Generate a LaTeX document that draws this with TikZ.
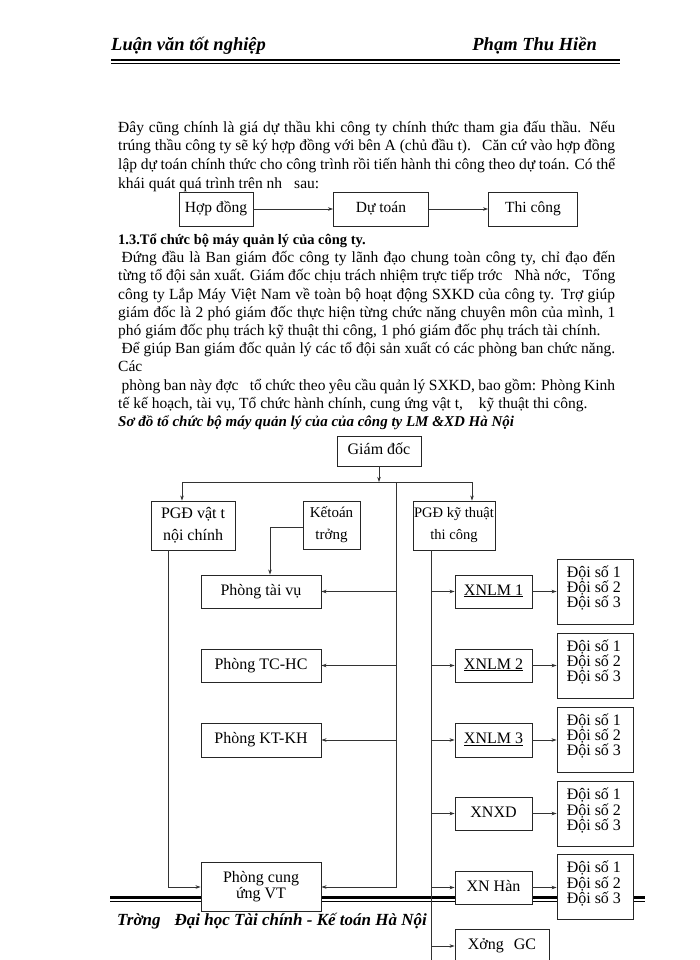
\documentclass[tikz,border=0pt]{standalone}
\usepackage{fontspec}
\setmainfont{Liberation Serif}
\usetikzlibrary{arrows.meta}
\begin{document}
\begin{tikzpicture}[x=1pt,y=-1pt,
 box/.style={draw=black!85, line width=0.9pt, fill=white, inner sep=0pt, align=center, font=\fontsize{16}{22}\selectfont},
 one/.style={box, text height=11pt, text depth=3.5pt},
 ln/.style={draw=black!80, line width=0.7pt},
 arr/.style={ln, -{Stealth[length=5pt,width=3.5pt]}},
 txt/.style={inner sep=0pt, anchor=base west, font=\fontsize{15.5}{17}\selectfont},
 hdr/.style={inner sep=0pt, anchor=base west, font=\fontsize{18.5}{20}\selectfont\bfseries\itshape},
 doitxt/.style={inner sep=0pt, anchor=north west, align=left, font=\fontsize{16}{14}\selectfont},
]
\fill[white] (0,0) rectangle (700,960);
\useasboundingbox (0,0) rectangle (700,960);

% header
\node[hdr] (h1) at (111,51) {Luận văn tốt nghiệp};
\node[hdr, anchor=base east] (h2) at (597,51) {Phạm Thu Hiền};
\coordinate (hl1) at (111,60); \coordinate (hr1) at (620,60);
\draw[line width=2.5pt] (hl1) -- (hr1);
\draw[line width=0.8pt] ([yshift=-3.5pt]hl1) -- ([yshift=-3.5pt]hr1);

% footer
\node[hdr, font=\fontsize{17}{20}\selectfont\bfseries\itshape] (f1) at (117,925) {Trờng\hspace{14pt}Đại học Tài chính - Kế toán Hà Nội};
\coordinate (fl1) at (110,897.5); \coordinate (fr1) at (645,897.5);
\draw[line width=2.5pt] (fl1) -- (fr1);
\draw[line width=0.8pt] ([yshift=-3.5pt]fl1) -- ([yshift=-3.5pt]fr1);

% paragraph 1
\node[txt] (t1) at (118,132.5) {\makebox[497pt][s]{Đây cũng chính là giá dự thầu khi công ty chính thức tham gia đấu thầu. Nếu}};
\node[txt] (t2) at (118,151) {\makebox[497pt][s]{trúng thầu công ty sẽ ký hợp đồng với bên A (chủ đầu t).\hspace{6pt} Căn cứ vào hợp đồng}};
\node[txt] (t3) at (118,169.5) {\makebox[497pt][s]{lập dự toán chính thức cho công trình rồi tiến hành thi công theo dự toán. Có thể}};
\node[txt] (t4) at (118,188) {khái quát quá trình trên nh\hspace{12pt}sau:};

% flow
\node[one, font=\fontsize{15.5}{18}\selectfont, minimum width=74pt, minimum height=34pt] (hd) at (216,209) {Hợp đồng};
\node[one, font=\fontsize{15.5}{18}\selectfont, minimum width=95pt, minimum height=34pt] (dt) at (381,209) {Dự toán};
\node[one, font=\fontsize{15.5}{18}\selectfont, minimum width=89pt, minimum height=34pt] (tc) at (533,209) {Thi công};
\draw[arr] (hd.east) -- (dt.west);
\draw[arr] (dt.east) -- (tc.west);

% heading + paragraph 2
\node[txt, font=\fontsize{14.5}{17}\selectfont\bfseries] (s1) at (118,244.5) {1.3.Tổ chức bộ máy quản lý của công ty.};
\node[txt] (u1) at (118,262.7) {\makebox[497pt][s]{\hspace*{3.5pt}Đứng đầu là Ban giám đốc công ty lãnh đạo chung toàn công ty, chỉ đạo đến}};
\node[txt] (u2) at (118,280.9) {\makebox[497pt][s]{từng tổ đội sản xuất. Giám đốc chịu trách nhiệm trực tiếp trớc\hspace{8pt} Nhà nớc,\hspace{8pt} Tổng}};
\node[txt] (u3) at (118,299.1) {\makebox[497pt][s]{công ty Lắp Máy Việt Nam về toàn bộ hoạt động SXKD của công ty. Trợ giúp}};
\node[txt] (u4) at (118,317.3) {\makebox[497pt][s]{giám đốc là 2 phó giám đốc thực hiện từng chức năng chuyên môn của mình, 1}};
\node[txt] (u5) at (118,335.5) {phó giám đốc phụ trách kỹ thuật thi công, 1 phó giám đốc phụ trách tài chính.};
\node[txt] (u6) at (118,353.7) {\makebox[497pt][s]{\hspace*{3.5pt}Để giúp Ban giám đốc quản lý các tổ đội sản xuất có các phòng ban chức năng.}};
\node[txt] (u7) at (118,371.9) {Các};
\node[txt] (u8) at (118,390.1) {\makebox[497pt][s]{\hspace*{3.5pt}phòng ban này đợc\hspace{8pt} tổ chức theo yêu cầu quản lý SXKD, bao gồm: Phòng Kinh}};
\node[txt] (u9) at (118,408.3) {tế kế hoạch, tài vụ, Tổ chức hành chính, cung ứng vật t,\hspace{12pt} kỹ thuật thi công.};
\node[txt, font=\fontsize{15}{17}\selectfont\bfseries\itshape] (s2) at (118,426.5) {Sơ đồ tổ chức bộ máy quản lý của của công ty LM \&XD Hà Nội};

% org chart boxes
\node[one, minimum width=84pt, minimum height=30pt] (gd) at (379,451) {Giám đốc};
\node[box, minimum width=84pt, minimum height=49pt] (pgd1) at (193,525.5) {PGĐ vật t\\nội chính};
\node[box, font=\fontsize{15}{22}\selectfont, minimum width=57pt, minimum height=48pt] (kt) at (331.5,525) {Kếtoán\\trởng};
\node[box, font=\fontsize{14.5}{22}\selectfont, minimum width=82pt, minimum height=49pt] (pgd2) at (454,525.5) {PGĐ kỹ thuật\\thi công};

\node[one, minimum width=120pt, minimum height=33pt] (ptv) at (261,591.5) {Phòng tài vụ};
\node[one, minimum width=120pt, minimum height=33pt] (ptc) at (261,665.5) {Phòng TC-HC};
\node[one, minimum width=120pt, minimum height=34pt] (pkt) at (261,740) {Phòng KT-KH};
\node[box, minimum width=120pt, minimum height=49pt, font=\fontsize{16}{16}\selectfont] (pcu) at (261,887) {Phòng cung\\ứng VT};

\node[one, minimum width=77pt, minimum height=33pt] (x1) at (493.5,591.5) {\underline{XNLM 1}};
\node[one, minimum width=77pt, minimum height=33pt] (x2) at (493.5,665.5) {\underline{XNLM 2}};
\node[one, minimum width=77pt, minimum height=34pt] (x3) at (493.5,740) {\underline{XNLM 3}};
\node[one, minimum width=77pt, minimum height=33pt] (x4) at (493.5,813.5) {XNXD};
\node[one, minimum width=77pt, minimum height=33pt] (x5) at (493.5,887.5) {XN Hàn};
\node[one, minimum width=94pt, minimum height=34pt] (x6) at (502,946) {Xởng\hspace{10pt}GC};

\foreach \n/\y in {1/591.5,2/665.5,3/739.5,4/814,5/887}{
  \node[box, minimum width=76pt, minimum height=65pt] (d\n) at (595,\y) {};
  \node[doitxt] (dt\n) at ([xshift=10pt,yshift=-7pt]d\n.north west) {Đội số 1\\Đội số 2\\Đội số 3};
}

% connectors
\coordinate (jg) at (379,482);
\coordinate (hl) at (182,482);
\coordinate (hr) at (472,482);
\coordinate (mv) at (396,482);
\coordinate (lv) at (168,550);
\coordinate (rv) at (431,550);
\coordinate (rvb) at (431,960);
\draw[arr] (gd.south) -- (jg);
\draw[ln] (hl) -- (hr);
\draw[arr] (hl) -- (hl |- pgd1.north);
\draw[arr] (hr) -- (hr |- pgd2.north);
\draw[arr] (mv) |- (pcu.east);
\draw[arr] (mv |- ptv.east) -- (ptv.east);
\draw[arr] (mv |- ptc.east) -- (ptc.east);
\draw[arr] (mv |- pkt.east) -- (pkt.east);
\draw[arr] ([yshift=-2pt]kt.west) -| ([xshift=9pt]ptv.north);
\draw[arr] (lv) |- (pcu.west);
\draw[ln] (rv) -- (rvb);
\foreach \n in {1,...,6}{ \draw[arr] (rv |- x\n.west) -- (x\n.west); }
\foreach \n in {1,...,5}{ \draw[arr] (x\n.east) -- (x\n.east -| d\n.west); }
\end{tikzpicture}
\end{document}
